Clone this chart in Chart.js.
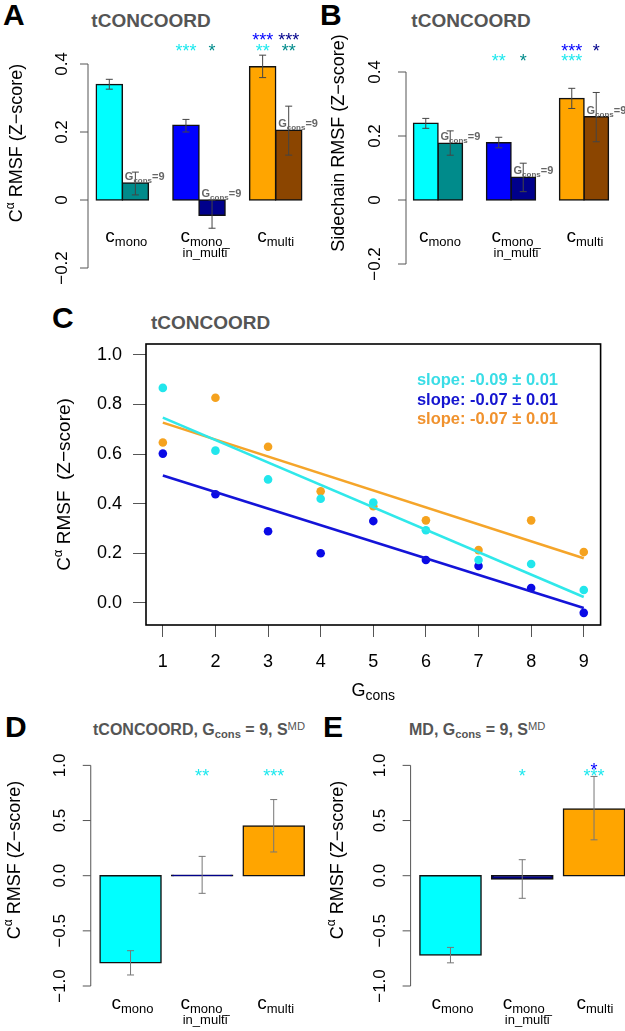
<!DOCTYPE html>
<html>
<head>
<meta charset="utf-8">
<script src="https://cdn.jsdelivr.net/npm/chart.js@4.4.1/dist/chart.umd.min.js"></script>
<style>
  html, body { margin: 0; padding: 0; background: #fff; overflow: hidden; }
  body { position: relative; width: 625px; height: 1031px; font-family: 'Liberation Sans', Arial, Helvetica, sans-serif; }
  canvas { position: absolute; }
  .lab { position: absolute; line-height: 1; white-space: nowrap; font-weight: bold; }
  .letter { font-size: 30px; color: #000; }
  .ttl { color: #555; }
  .big { font-size: 19px; }
  .small { font-size: 16px; }
  .center { transform: translateX(-50%); }
  .lab sub, .lab sup { font-size: 0.7em; position: relative; vertical-align: baseline; line-height: 0; }
  .lab sub { top: 0.3em; }
  .lab sup { top: -0.45em; font-weight: normal; }
</style>
</head>
<body>
<div class="lab letter" style="left:3px;top:0px">A</div>
<div class="lab ttl big center" style="left:151px;top:11px">tCONCOORD</div>
<div class="lab letter" style="left:320px;top:0px">B</div>
<div class="lab ttl big center" style="left:471px;top:11px">tCONCOORD</div>
<div class="lab letter" style="left:52px;top:303px">C</div>
<div class="lab ttl big" style="left:151px;top:313px">tCONCOORD</div>
<div class="lab letter" style="left:5px;top:712px">D</div>
<div class="lab ttl small" style="left:93px;top:722px">tCONCOORD, G<sub>cons</sub> = 9, S<sup>MD</sup></div>
<div class="lab letter" style="left:323px;top:712px">E</div>
<div class="lab ttl small" style="left:409px;top:722px">MD, G<sub>cons</sub> = 9, S<sup>MD</sup></div>

<script>
// ---- data ----
const categories = ['mono', 'mono_in_multi', 'multi'];
const categoryLines = [['mono'], ['mono_', 'in_multi'], ['multi']];

// A: C-alpha RMSF, all residues vs Gcons = 9
const aAll = [0.34, 0.22, 0.392];
const aAllErr = [[0.326, 0.355], [0.200, 0.237], [0.360, 0.426]];
const aG9 = [0.05, -0.045, 0.205];
const aG9Err = [[0.015, 0.082], [-0.083, 0.0], [0.132, 0.276]];
const aStarsAll = [['', ''], ['***', ''], ['**', '***']];
const aStarsG9 = [['', ''], ['*', ''], ['**', '***']];
const aTicks = [-0.2, 0, 0.2, 0.4];
const aTickLabels = ['\u22120.2', '0', '0.2', '0.4'];

// B: sidechain RMSF
const bAll = [0.24, 0.179, 0.317];
const bAllErr = [[0.224, 0.255], [0.163, 0.196], [0.286, 0.349]];
const bG9 = [0.177, 0.071, 0.26];
const bG9Err = [[0.14, 0.216], [0.026, 0.115], [0.182, 0.336]];
const bStarsAll = [['', ''], ['**', ''], ['***', '***']];
const bStarsG9 = [['', ''], ['*', ''], ['', '*']];
const bTicks = [-0.2, 0, 0.2, 0.4];
const bTickLabels = ['\u22120.2', '0', '0.2', '0.4'];

// C: RMSF vs Gcons
const gcons = [1, 2, 3, 4, 5, 6, 7, 8, 9];
const cMono = [0.867, 0.614, 0.498, 0.42, 0.405, 0.293, 0.173, 0.157, 0.052];
const cMonoInMulti = [0.602, 0.438, 0.289, 0.2, 0.33, 0.173, 0.149, 0.06, -0.04];
const cMulti = [0.647, 0.827, 0.63, 0.45, 0.39, 0.333, 0.213, 0.333, 0.205];
const fitEnds = [1, 9];
const fitMono = [0.747, 0.024];
const fitMonoInMulti = [0.514, -0.02];
const fitMulti = [0.727, 0.18];
const slopeLabels = ['slope: -0.09 \u00b1 0.01', 'slope: -0.07 \u00b1 0.01', 'slope: -0.07 \u00b1 0.01'];
const cTicksY = [0, 0.2, 0.4, 0.6, 0.8, 1.0];

// D / E: Gcons = 9, S^MD
const dVals = [-0.79, 0.005, 0.45];
const dErr = [[-0.9, -0.68], [-0.16, 0.175], [0.215, 0.69]];
const dStars = [['', ''], ['**', ''], ['***', '']];
const eVals = [-0.72, -0.03, 0.605];
const eErr = [[-0.79, -0.65], [-0.205, 0.145], [0.325, 0.9]];
const eStars = [['', ''], ['*', ''], ['***', '*']];
const deTicks = [-1, -0.5, 0, 0.5, 1];
const deTickLabels = ['\u22121.0', '\u22120.5', '0.0', '0.5', '1.0'];

// ---- style ----
const FONT = "'Liberation Sans', Arial, Helvetica, sans-serif";
const CYAN = '#00FFFF', TEAL = '#008B8B', BLUE = '#0000FF', NAVY = '#00008B', ORANGE = '#FFA500', BROWN = '#8B4500';
const STAR_CYAN = '#1CE8EE';
const calphaTitle = [['C', 18], ['\u03b1', 12, -8], [' RMSF (Z\u2212score)', 18]];
const gTag = [['G', 11, 0, 'bold'], ['cons', 8, 3, 'bold'], ['=9', 11, 0, 'bold']];

function rich(ctx, parts, x, y, align) {
    const f = p => `${p[3] || 'normal'} ${p[1]}px ${FONT}`;
    let w = 0;
    for (const p of parts) { ctx.font = f(p); w += ctx.measureText(p[0]).width; }
    let cx = align === 'center' ? x - w / 2 : (align === 'right' ? x - w : x);
    ctx.textAlign = 'left';
    ctx.textBaseline = 'alphabetic';
    for (const p of parts) {
        ctx.font = f(p);
        ctx.fillText(p[0], cx, y + (p[2] || 0));
        cx += ctx.measureText(p[0]).width;
    }
}

function makeCanvas(left, top, w, h) {
    const cv = document.createElement('canvas');
    cv.width = w; cv.height = h;
    cv.style.left = left + 'px';
    cv.style.top = top + 'px';
    document.body.appendChild(cv);
    return cv;
}

function barDecor(cfg) {
    return {
        id: 'barDecor',
        afterDatasetsDraw(chart) {
            const { ctx } = chart;
            const ys = chart.scales.y;
            ctx.save();
            ctx.strokeStyle = cfg.errColor;
            ctx.lineWidth = 1;
            cfg.series.forEach((s, i) => {
                chart.getDatasetMeta(i).data.forEach((bar, j) => {
                    const y1 = ys.getPixelForValue(s.err[j][0]);
                    const y2 = ys.getPixelForValue(s.err[j][1]);
                    ctx.beginPath();
                    ctx.moveTo(bar.x, y1); ctx.lineTo(bar.x, y2);
                    ctx.moveTo(bar.x - 3.5, y1); ctx.lineTo(bar.x + 3.5, y1);
                    ctx.moveTo(bar.x - 3.5, y2); ctx.lineTo(bar.x + 3.5, y2);
                    ctx.stroke();
                });
            });
            ctx.restore();
        },
        afterDraw(chart) {
            const { ctx, chartArea: a } = chart;
            const ys = chart.scales.y, xs = chart.scales.x;
            ctx.save();
            // R-style axis: line only between first and last tick
            const ax = a.left + cfg.axisShift;
            ctx.strokeStyle = '#555';
            ctx.lineWidth = 1;
            ctx.beginPath();
            ctx.moveTo(ax, ys.getPixelForValue(cfg.ticks[0]));
            ctx.lineTo(ax, ys.getPixelForValue(cfg.ticks[cfg.ticks.length - 1]));
            cfg.ticks.forEach(v => {
                const py = ys.getPixelForValue(v);
                ctx.moveTo(ax - 8, py); ctx.lineTo(ax, py);
            });
            ctx.stroke();
            ctx.fillStyle = '#000';
            ctx.font = `17px ${FONT}`;
            ctx.textAlign = 'center';
            ctx.textBaseline = 'alphabetic';
            cfg.ticks.forEach((v, k) => {
                ctx.save();
                ctx.translate(ax - cfg.tickLabGap, ys.getPixelForValue(v));
                ctx.rotate(-Math.PI / 2);
                ctx.fillText(cfg.tickLabels[k], 0, 0);
                ctx.restore();
            });

            // significance stars
            ctx.font = `18px ${FONT}`;
            ctx.textAlign = 'center';
            cfg.series.forEach((s, i) => {
                chart.getDatasetMeta(i).data.forEach((bar, j) => {
                    s.stars[j].forEach((txt, r) => {
                        if (!txt) return;
                        ctx.fillStyle = s.starColors[r];
                        ctx.fillText(txt, bar.x, a.top + cfg.starRows[r] + 10);
                    });
                });
            });

            // Gcons=9 tags
            cfg.series.forEach((s, i) => {
                if (!s.tag) return;
                ctx.fillStyle = '#666';
                chart.getDatasetMeta(i).data.forEach((bar, j) => {
                    const top = ys.getPixelForValue(Math.max(s.values[j], 0));
                    rich(ctx, gTag, bar.x - bar.width / 2 + 2.5, top - 3, 'left');
                });
            });

            // category labels
            ctx.fillStyle = '#000';
            categoryLines.forEach((lines, j) => {
                const cx = xs.getPixelForValue(j) + cfg.labelDx[j];
                const by = a.bottom + cfg.labelY;
                rich(ctx, [['c', 19], [lines[0], 13, 4]], cx, by, 'center');
                if (lines[1]) rich(ctx, [[lines[1], 13]], cx, by + 15, 'center');
            });

            // y title
            ctx.translate(cfg.yTitle.x, cfg.yTitle.y);
            ctx.rotate(-Math.PI / 2);
            rich(ctx, cfg.yTitle.parts, 0, 0, 'center');
            ctx.restore();
        }
    };
}

function barPanel(cfg) {
    const cv = makeCanvas(cfg.left, cfg.top, cfg.w, cfg.h);
    const datasets = cfg.series.map(s => ({
        data: s.values,
        backgroundColor: s.colors,
        borderColor: '#111',
        borderWidth: 1.5,
        borderSkipped: false,
        inflateAmount: 0.75,
        barPercentage: 1,
        categoryPercentage: cfg.catPct
    }));
    return new Chart(cv, {
        type: 'bar',
        data: { labels: categories, datasets },
        options: {
            responsive: false,
            animation: false,
            events: [],
            layout: { padding: cfg.pad },
            plugins: { legend: { display: false }, tooltip: { enabled: false } },
            scales: {
                x: { display: false },
                y: { display: false, min: cfg.min, max: cfg.max }
            }
        },
        plugins: [barDecor(cfg)]
    });
}

document.addEventListener('DOMContentLoaded', () => {
    barPanel({
        left: 0, top: 0, w: 320, h: 290,
        pad: { left: 84, right: 6, top: 30, bottom: 22 },
        min: -0.2, max: 0.5, catPct: 0.68,
        axisShift: 4, tickLabGap: 21,
        ticks: aTicks, tickLabels: aTickLabels,
        starRows: [17, 6], errColor: '#444',
        labelY: -26, labelDx: [4, 6, 0],
        yTitle: { x: 22, y: 143, parts: calphaTitle },
        series: [
            { values: aAll, err: aAllErr, colors: [CYAN, BLUE, ORANGE], stars: aStarsAll, starColors: [STAR_CYAN, BLUE] },
            { values: aG9, err: aG9Err, colors: [TEAL, NAVY, BROWN], stars: aStarsG9, starColors: [TEAL, NAVY], tag: true }
        ]
    });

    barPanel({
        left: 320, top: 0, w: 305, h: 290,
        pad: { left: 81.5, right: 4.5, top: 24, bottom: 26 },
        min: -0.2, max: 0.55, catPct: 0.67,
        axisShift: 4.5, tickLabGap: 26,
        ticks: bTicks, tickLabels: bTickLabels,
        starRows: [33, 23], errColor: '#444',
        labelY: -22, labelDx: [2, 5, 1],
        yTitle: { x: 24, y: 143, parts: [['Sidechain RMSF (Z\u2212score)', 18]] },
        series: [
            { values: bAll, err: bAllErr, colors: [CYAN, BLUE, ORANGE], stars: bStarsAll, starColors: [STAR_CYAN, BLUE] },
            { values: bG9, err: bG9Err, colors: [TEAL, NAVY, BROWN], stars: bStarsG9, starColors: [TEAL, NAVY], tag: true }
        ]
    });

    barPanel({
        left: 0, top: 700, w: 312, h: 331,
        pad: { left: 94.75, right: 2.5, top: 56, bottom: 45 },
        min: -1, max: 1.085, catPct: 0.853,
        axisShift: -4, tickLabGap: 26,
        ticks: deTicks, tickLabels: deTickLabels,
        starRows: [16, 10], errColor: '#777',
        labelY: 23, labelDx: [2, 3, 2],
        yTitle: { x: 20, y: 160, parts: calphaTitle },
        series: [
            { values: dVals, err: dErr, colors: [CYAN, NAVY, ORANGE], stars: dStars, starColors: [STAR_CYAN, BLUE] }
        ]
    });

    barPanel({
        left: 312, top: 700, w: 325, h: 331,
        pad: { left: 102.6, right: 7.1, top: 56, bottom: 45 },
        min: -1, max: 1.085, catPct: 0.853,
        axisShift: -4, tickLabGap: 26,
        ticks: deTicks, tickLabels: deTickLabels,
        starRows: [16, 10], errColor: '#777',
        labelY: 23, labelDx: [2, 5, 1],
        yTitle: { x: 31, y: 160, parts: calphaTitle },
        series: [
            { values: eVals, err: eErr, colors: [CYAN, NAVY, ORANGE], stars: eStars, starColors: [STAR_CYAN, BLUE] }
        ]
    });

    // ---- panel C ----
    const cColors = { mono: '#22E6EC', inMulti: '#0A0AE6', multi: '#F5A21E' };
    const slopeColors = ['#3ADDE6', '#1515D0', '#F0922E'];
    const pts = (ys) => gcons.map((g, k) => ({ x: g, y: ys[k] }));
    const fit = (ys) => fitEnds.map((g, k) => ({ x: g, y: ys[k] }));
    const pointSet = (ys, col) => ({ type: 'scatter', data: pts(ys), backgroundColor: col, borderWidth: 0, pointRadius: 4.3, order: 2 });
    const lineSet = (ys, col) => ({ type: 'line', data: fit(ys), borderColor: col, borderWidth: 2.6, pointRadius: 0, fill: false, order: 1 });

    const cDecor = {
        id: 'cDecor',
        afterDraw(chart) {
            const { ctx, chartArea: a } = chart;
            ctx.save();
            ctx.strokeStyle = '#000';
            ctx.lineWidth = 1.6;
            ctx.strokeRect(a.left, a.top, a.right - a.left, a.bottom - a.top);
            ctx.font = `bold 16.5px ${FONT}`;
            ctx.textAlign = 'right';
            ctx.textBaseline = 'alphabetic';
            slopeLabels.forEach((t, i) => {
                ctx.fillStyle = slopeColors[i];
                ctx.fillText(t, a.right - 42.6, a.top + 41 + i * 19.5);
            });
            ctx.fillStyle = '#000';
            rich(ctx, [['G', 18], ['cons', 14, 4]], (a.left + a.right) / 2, a.bottom + 71, 'center');
            ctx.translate(70, (a.top + a.bottom) / 2);
            ctx.rotate(-Math.PI / 2);
            rich(ctx, [['C', 19], ['\u03b1', 13, -8], [' RMSF  (Z\u2212score)', 19]], 0, 0, 'center');
            ctx.restore();
        }
    };

    const cv = makeCanvas(0, 290, 625, 420);
    new Chart(cv, {
        type: 'scatter',
        data: {
            datasets: [
                lineSet(fitMono, '#30E8EA'),
                lineSet(fitMonoInMulti, '#1414D8'),
                lineSet(fitMulti, '#F5A52A'),
                pointSet(cMono, cColors.mono),
                pointSet(cMonoInMulti, cColors.inMulti),
                pointSet(cMulti, cColors.multi)
            ]
        },
        options: {
            responsive: false,
            animation: false,
            events: [],
            layout: { padding: { top: 54, right: 24.4, left: 0, bottom: 0 } },
            plugins: { legend: { display: false }, tooltip: { enabled: false } },
            scales: {
                x: {
                    type: 'linear', min: 0.68, max: 9.32,
                    afterBuildTicks: s => { s.ticks = gcons.map(v => ({ value: v })); },
                    afterFit: s => { s.height = 85; },
                    grid: { drawOnChartArea: false, tickLength: 12, color: '#555', lineWidth: 1 },
                    border: { display: false },
                    ticks: { font: { family: FONT, size: 18 }, color: '#000', padding: 14, maxRotation: 0, autoSkip: false }
                },
                y: {
                    min: -0.089, max: 1.044,
                    afterBuildTicks: s => { s.ticks = cTicksY.map(v => ({ value: v })); },
                    afterFit: s => { s.width = 146; },
                    grid: { drawOnChartArea: false, tickLength: 13, color: '#555', lineWidth: 1 },
                    border: { display: false },
                    ticks: { font: { family: FONT, size: 18 }, color: '#000', padding: 11, callback: v => Number(v).toFixed(1) }
                }
            }
        },
        plugins: [cDecor]
    });
});
</script>
</body>
</html>
